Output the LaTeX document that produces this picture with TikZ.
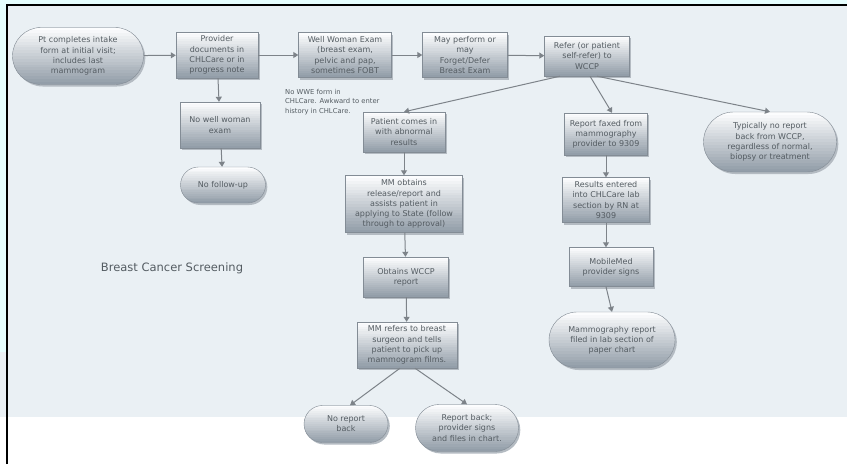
\documentclass[tikz,border=0pt]{standalone}
\usepackage{fontspec}
\setmainfont{DejaVu Sans}
\usetikzlibrary{shapes.misc,arrows.meta,calc}
\definecolor{bgpanel}{HTML}{EAF0F4}
\definecolor{bgout}{HTML}{E6FEFE}
\definecolor{boxtop}{HTML}{FCFDFE}
\definecolor{boxmid}{HTML}{C8CED4}
\definecolor{boxbot}{HTML}{939EA9}
\definecolor{boxline}{HTML}{838C95}
\definecolor{boxshade}{HTML}{B4BBC2}
\definecolor{txt}{HTML}{545C62}
\definecolor{lnk}{HTML}{7D8389}
\begin{document}
\begin{tikzpicture}[x=1pt,y=1pt,
    font=\fontsize{8}{10.2}\selectfont,
    box/.style={draw=boxline,line width=0.4pt,fill=boxmid,
        text=txt,align=center,inner sep=1pt,
        preaction={fill=boxshade,transform canvas={shift={(1.8pt,-2pt)}}},
        path picture={
            \foreach \k in {0,...,19}{
                \pgfmathsetmacro{\pct}{\k*100/19}
                \pgfmathsetmacro{\stripfrom}{\k/20}
                \pgfmathsetmacro{\stripto}{(\k+1.3)/20}
                \fill[boxbot!\pct!boxtop]
                    ($(path picture bounding box.north west)!\stripfrom!(path picture bounding box.south west)$)
                    rectangle
                    ($(path picture bounding box.north east)!\stripto!(path picture bounding box.south east)$);
            }}},
    pill/.style={box,rounded rectangle},
    arr/.style={draw=lnk,line width=1pt,-{Triangle[width=6pt,length=5pt]}}]
        \useasboundingbox (0,0) rectangle (847,-464);
        %% background
        \fill[bgout] (0,0) rectangle (847,-464);
        \fill[bgpanel] (8,-6) rectangle (847,-417);
        \fill[bgpanel] (0,-352) rectangle (8,-417);
        \fill[white] (0,-417) rectangle (847,-464);
        \draw[line width=2pt] (7,-464) -- (7,-5) -- (847,-5);
        %% top row
        \node[pill,minimum width=133,minimum height=57] (intake) at (78,-56)
            {Pt completes intake\\form at initial visit;\\includes last\\mammogram};
        \node[box,minimum width=82,minimum height=46] (provider) at (217,-55)
            {Provider\\documents in\\CHLCare or in\\progress note};
        \node[box,minimum width=93,minimum height=45] (wwe) at (345,-55)
            {Well Woman Exam\\(breast exam,\\pelvic and pap,\\sometimes FOBT};
        \node[box,minimum width=85,minimum height=45] (defer) at (465,-55)
            {May perform or\\may\\Forget/Defer\\Breast Exam};
        \node[box,minimum width=85,minimum height=40] (refer) at (587,-56)
            {Refer (or patient\\self-refer) to\\WCCP};
        %% left branch
        \node[box,minimum width=80,minimum height=46] (nowwe) at (220,-125)
            {No well woman\\exam};
        \node[pill,minimum width=87,minimum height=36] (nofollow) at (223,-185)
            {No follow-up};
        \node[text=txt,align=left,anchor=north west,inner sep=0pt,
            font=\fontsize{6.8}{9.4}\selectfont] (note) at (285,-89)
            {No WWE form in\\CHLCare. Awkward to enter\\history in CHLCare.};
        \node[text=txt,font=\fontsize{11.5}{13}\selectfont] (title) at (172,-268)
            {Breast Cancer Screening};
        %% middle branch
        \node[box,minimum width=82,minimum height=40] (abnormal) at (404,-132)
            {Patient comes in\\with abnormal\\results};
        \node[box,minimum width=117,minimum height=57] (release) at (404,-204)
            {MM obtains\\release/report and\\assists patient in\\applying to State (follow\\through to approval)};
        \node[box,minimum width=85,minimum height=40] (obtains) at (406,-277)
            {Obtains WCCP\\report};
        \node[box,minimum width=100,minimum height=46] (surgeon) at (407,-345)
            {MM refers to breast\\surgeon and tells\\patient to pick up\\mammogram films.};
        \node[pill,minimum width=86,minimum height=37] (noreport) at (346,-424)
            {No report\\back};
        \node[pill,minimum width=105,minimum height=47] (reportback) at (467,-428)
            {Report back;\\provider signs\\and files in chart.};
        %% right branch
        \node[box,minimum width=83,minimum height=42] (faxed) at (606,-134)
            {Report faxed from\\mammography\\provider to 9309};
        \node[box,minimum width=87,minimum height=45] (entered) at (606,-200)
            {Results entered\\into CHLCare lab\\section by RN at\\9309};
        \node[box,minimum width=84,minimum height=39] (signs) at (611,-267)
            {MobileMed\\provider signs};
        \node[pill,minimum width=128,minimum height=56] (filed) at (612,-340)
            {Mammography report\\filed in lab section of\\paper chart};
        \node[pill,minimum width=135,minimum height=60] (nowccp) at (770,-142)
            {Typically no report\\back from WCCP,\\regardless of normal,\\biopsy or treatment};
        %% connectors
        \draw[arr] (intake) -- (provider);
        \draw[arr] (provider) -- (wwe);
        \draw[arr] (wwe) -- (defer);
        \draw[arr] (defer) -- (refer);
        \draw[arr] (provider) -- (nowwe);
        \draw[arr] (nowwe) -- (nofollow);
        \draw[arr] ([xshift=-27pt]refer.south) -- (abnormal.north);
        \draw[arr] ([xshift=3pt]refer.south) -- ([xshift=6pt]faxed.north);
        \draw[arr] ([xshift=10pt]refer.south) -- (nowccp.north);
        \draw[arr] (abnormal) -- (release);
        \draw[arr] (release) -- (obtains);
        \draw[arr] (obtains) -- (surgeon);
        \draw[arr] ([xshift=-7pt]surgeon.south) -- ([xshift=4pt]noreport.north);
        \draw[arr] ([xshift=8pt]surgeon.south) -- (reportback.north);
        \draw[arr] (faxed) -- (entered);
        \draw[arr] (entered) -- ([xshift=-5pt]signs.north);
        \draw[arr] ([xshift=-5pt]signs.south) -- (filed.north);
\end{tikzpicture}
\end{document}
